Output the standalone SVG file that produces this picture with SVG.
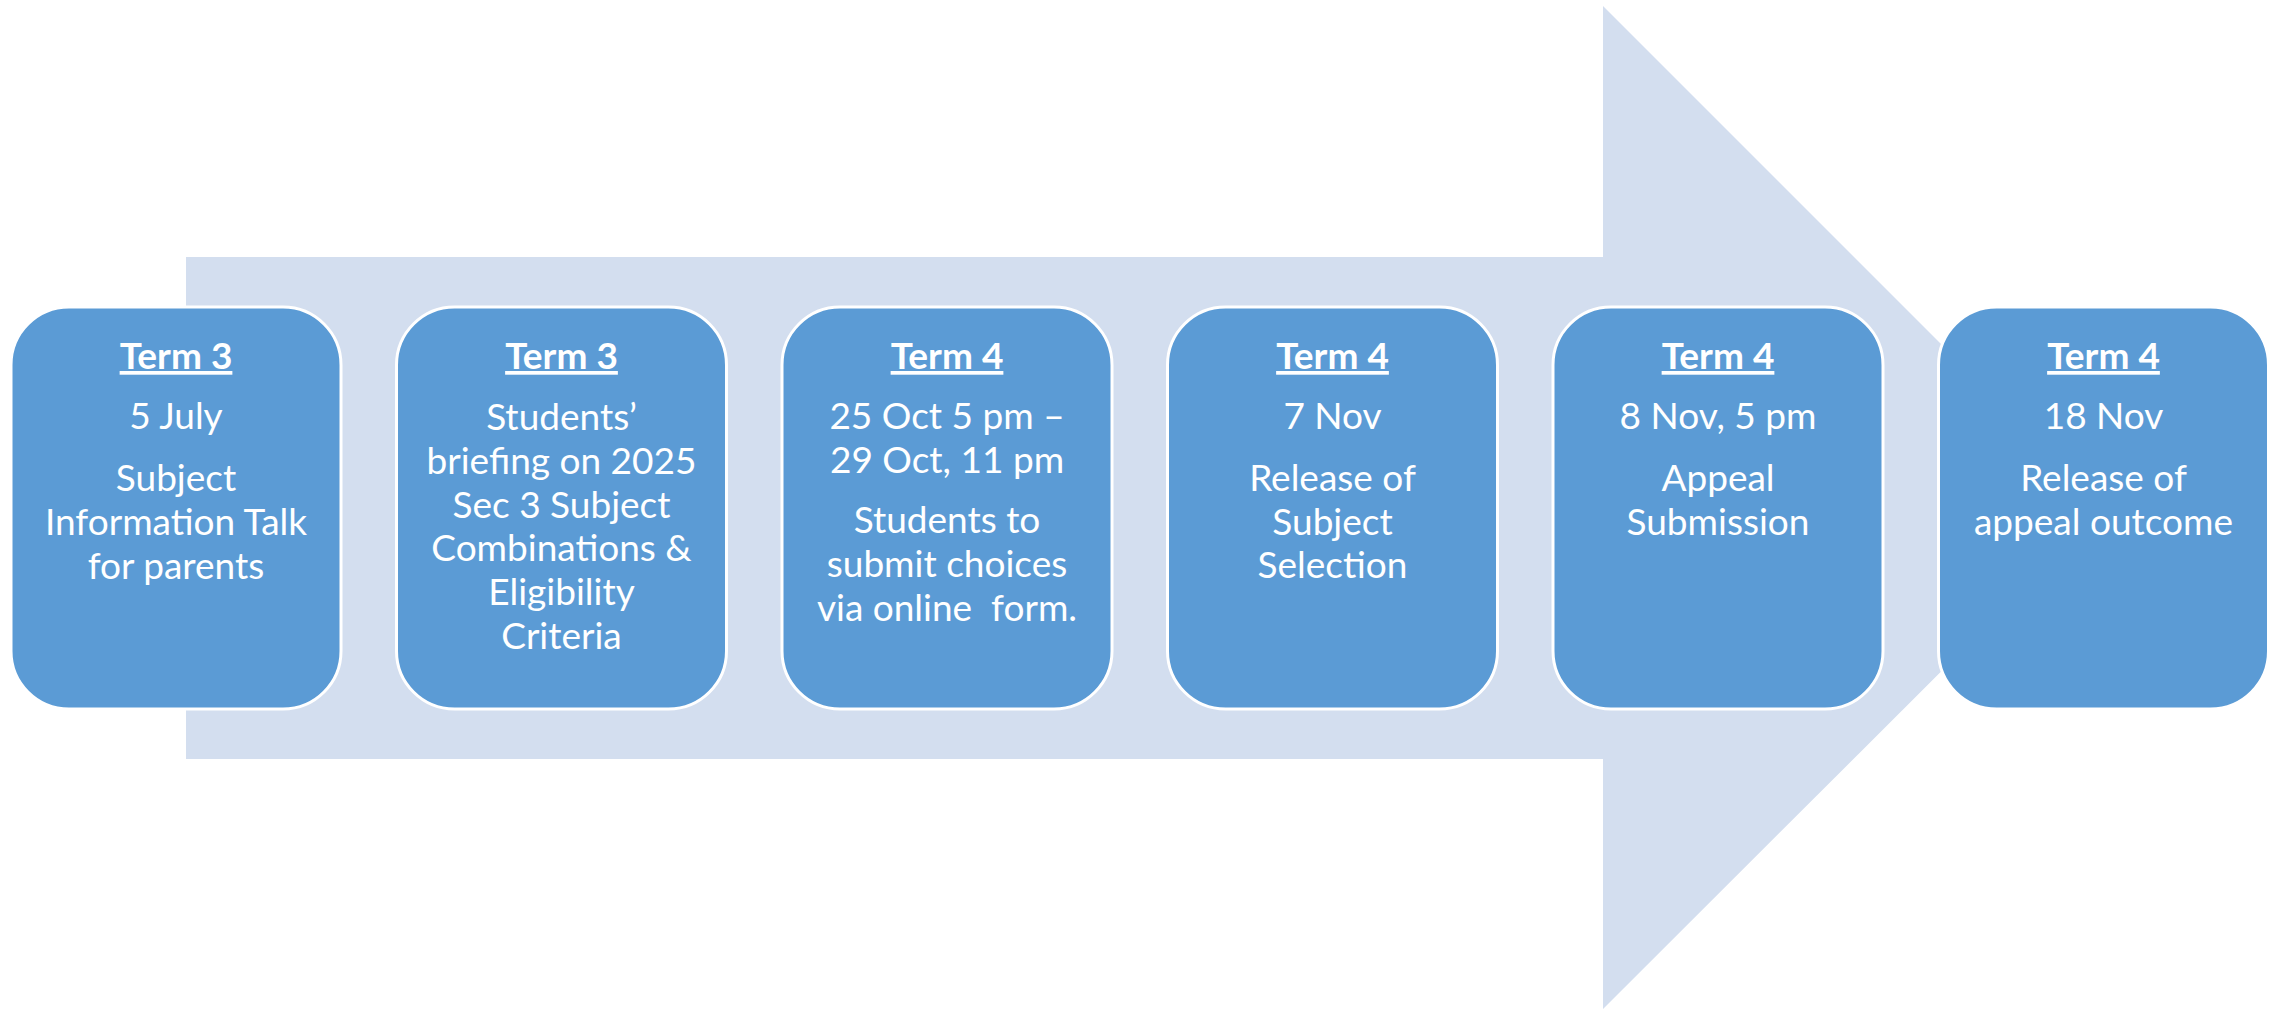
<svg xmlns="http://www.w3.org/2000/svg" width="2280" height="1010" viewBox="0 0 2280 1010">
<style>
.box{fill:#5B9BD5;stroke:#FFFFFF;stroke-width:3}
.t{font-family:Lato,"Liberation Sans",sans-serif;font-size:37px;fill:#FFFFFF;text-anchor:middle;white-space:pre}
.h{font-weight:bold;text-decoration:underline}
</style>
<rect width="2280" height="1010" fill="#FFFFFF"/>
<g id="arrow">
<polygon points="186,257 1603,257 1603,6 2105,508 1603,1009 1603,759 186,759" fill="#D3DEEF"/>
</g>
<g id="connectors"></g>
<g id="node1">
<rect class="box" x="11" y="307" width="330" height="402" rx="58" ry="58"/>
<text class="t h" x="176" y="369">Term 3</text>
<text class="t" x="176" y="429">5 July</text>
<text class="t" x="176" y="491">Subject</text>
<text class="t" x="176" y="535">Information Talk</text>
<text class="t" x="176" y="579">for parents</text>
</g>
<g id="node2">
<rect class="box" x="396.5" y="307" width="330" height="402" rx="58" ry="58"/>
<text class="t h" x="561.5" y="369">Term 3</text>
<text class="t" x="561.5" y="430">Students’</text>
<text class="t" x="561.5" y="474">briefing on 2025</text>
<text class="t" x="561.5" y="518">Sec 3 Subject</text>
<text class="t" x="561.5" y="561">Combinations &amp;</text>
<text class="t" x="561.5" y="605">Eligibility</text>
<text class="t" x="561.5" y="649">Criteria</text>
</g>
<g id="node3">
<rect class="box" x="782" y="307" width="330" height="402" rx="58" ry="58"/>
<text class="t h" x="947" y="369">Term 4</text>
<text class="t" x="947" y="429">25 Oct 5 pm –</text>
<text class="t" x="947" y="473">29 Oct, 11 pm</text>
<text class="t" x="947" y="533">Students to</text>
<text class="t" x="947" y="577">submit choices</text>
<text class="t" x="947" y="621">via online  form.</text>
</g>
<g id="node4">
<rect class="box" x="1167.5" y="307" width="330" height="402" rx="58" ry="58"/>
<text class="t h" x="1332.5" y="369">Term 4</text>
<text class="t" x="1332.5" y="429">7 Nov</text>
<text class="t" x="1332.5" y="491">Release of</text>
<text class="t" x="1332.5" y="535">Subject</text>
<text class="t" x="1332.5" y="578">Selection</text>
</g>
<g id="node5">
<rect class="box" x="1553" y="307" width="330" height="402" rx="58" ry="58"/>
<text class="t h" x="1718" y="369">Term 4</text>
<text class="t" x="1718" y="429">8 Nov, 5 pm</text>
<text class="t" x="1718" y="491">Appeal</text>
<text class="t" x="1718" y="535">Submission</text>
</g>
<g id="node6">
<rect class="box" x="1938.5" y="307" width="330" height="402" rx="58" ry="58"/>
<text class="t h" x="2103.5" y="369">Term 4</text>
<text class="t" x="2103.5" y="429">18 Nov</text>
<text class="t" x="2103.5" y="491">Release of</text>
<text class="t" x="2103.5" y="535">appeal outcome</text>
</g>
</svg>
